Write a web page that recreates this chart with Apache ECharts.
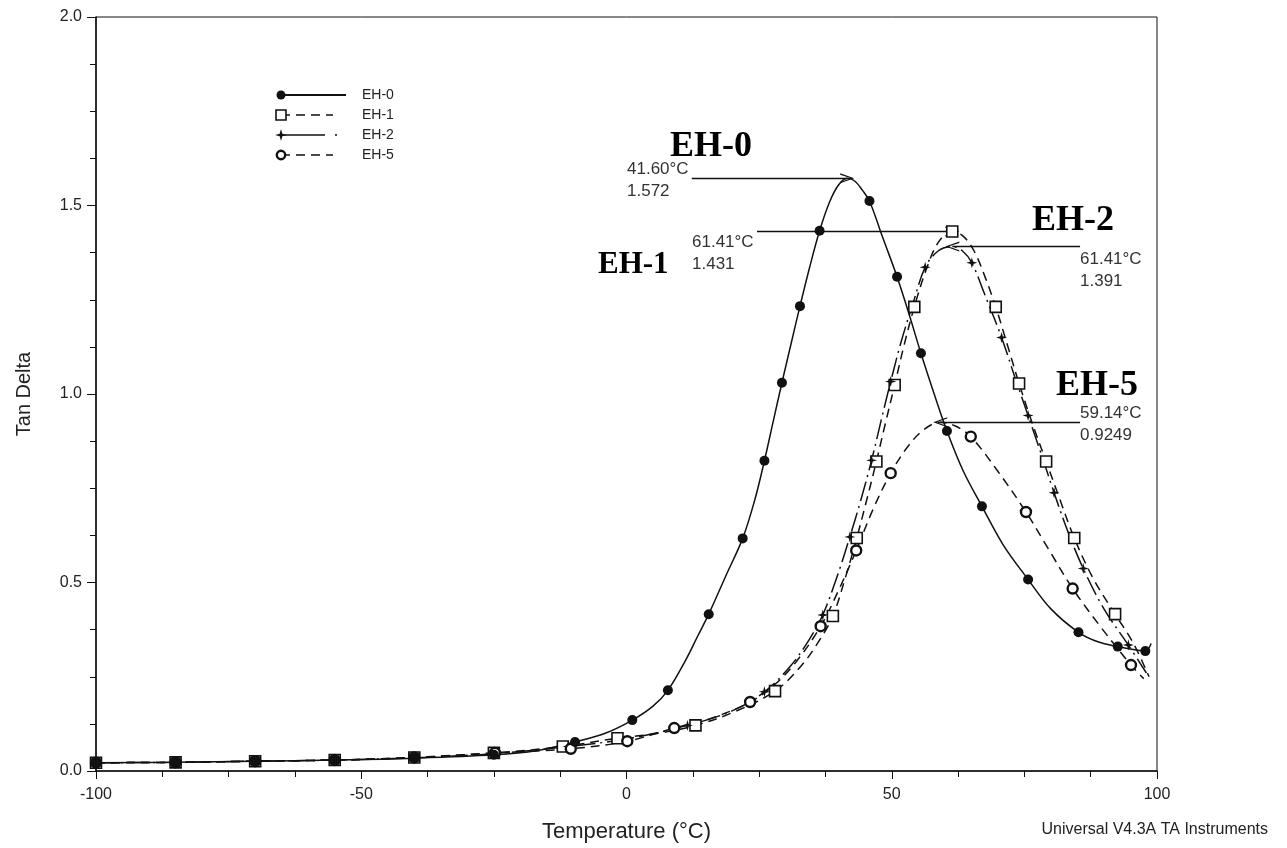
<!DOCTYPE html>
<html>
<head>
<meta charset="utf-8">
<script src="https://cdn.jsdelivr.net/npm/echarts@6/dist/echarts.min.js"></script>
<style>
  html, body { margin: 0; padding: 0; background: #fff; }
  #chart { width: 1287px; height: 848px; }
</style>
</head>
<body>
<div id="chart"></div>
<script>
// Tan Delta vs temperature, DMA sweep for four samples

const seriesNames = ['EH-0', 'EH-1', 'EH-2', 'EH-5'];

// Traced curves [temperature °C, tan delta]
const curveEH0 = [[-100,0.022],[-85,0.023],[-70,0.026],[-55,0.029],[-40,0.034],[-25,0.043],[-17,0.054],[-9.7,0.077],[-4,0.1],[1.1,0.135],[5,0.172],[7.8,0.214],[11,0.29],[13.5,0.36],[15.5,0.416],[18.8,0.52],[21.9,0.617],[24.2,0.72],[26,0.823],[27.7,0.93],[29.3,1.03],[31,1.132],[32.7,1.233],[34.5,1.335],[36.4,1.433],[38.3,1.51],[40,1.555],[41.6,1.572],[43,1.565],[44.5,1.54],[45.8,1.512],[48.3,1.415],[51,1.311],[53.3,1.21],[55.5,1.108],[58,1.0],[60.4,0.902],[63.5,0.795],[67,0.702],[71,0.6],[75.7,0.508],[80,0.43],[85.2,0.368],[89,0.342],[92.6,0.33],[95.5,0.322],[97.8,0.318],[98.9,0.338]];
const curveEH1 = [[-100,0.022],[-85,0.023],[-70,0.026],[-55,0.029],[-40,0.036],[-25,0.048],[-12,0.065],[-1.7,0.087],[6,0.1],[13,0.121],[20,0.155],[28,0.212],[33,0.28],[36.3,0.345],[38.9,0.411],[41.3,0.515],[43.4,0.618],[45.3,0.72],[47.1,0.821],[48.8,0.922],[50.55,1.024],[52.3,1.128],[54.25,1.231],[56.5,1.33],[58.8,1.403],[61.41,1.431],[63.5,1.418],[65.5,1.38],[67.6,1.31],[69.6,1.231],[71.8,1.13],[74,1.028],[76.5,0.922],[79.1,0.821],[81.7,0.72],[84.4,0.618],[88,0.51],[92.1,0.416],[95.5,0.34],[98.5,0.25]];
const curveEH2 = [[-100,0.022],[-85,0.023],[-70,0.026],[-55,0.029],[-40,0.035],[-25,0.046],[-11,0.065],[0,0.085],[11.5,0.121],[20,0.16],[26,0.21],[31,0.28],[34.5,0.35],[37,0.414],[39.8,0.52],[42.1,0.621],[44.2,0.72],[46.2,0.824],[48,0.93],[49.8,1.033],[51.8,1.14],[54,1.24],[56.3,1.336],[58.8,1.38],[61.41,1.391],[63.3,1.38],[65.1,1.348],[67.5,1.265],[70.7,1.15],[73.2,1.045],[75.7,0.943],[78.2,0.84],[80.6,0.738],[83.2,0.635],[86.1,0.537],[90,0.43],[94.6,0.334],[98,0.26]];
const curveEH5 = [[-100,0.022],[-85,0.023],[-70,0.026],[-55,0.029],[-40,0.036],[-24.8,0.048],[-10.5,0.059],[0.15,0.079],[9,0.114],[16,0.14],[23.3,0.183],[28,0.23],[32,0.29],[36.6,0.384],[40,0.48],[43.3,0.585],[46.5,0.695],[49.8,0.79],[53,0.86],[56,0.905],[59.14,0.9249],[62,0.915],[64.9,0.887],[70,0.795],[75.3,0.687],[79.7,0.585],[84.1,0.484],[89.5,0.38],[95.1,0.281],[97.5,0.245]];

// Plotted marker points on each curve
const markersEH0 = [[-100,0.022],[-85,0.023],[-70,0.026],[-55,0.029],[-40,0.034],[-25,0.043],[-9.7,0.077],[1.1,0.135],[7.8,0.214],[15.5,0.416],[21.9,0.617],[26,0.823],[29.3,1.03],[32.7,1.233],[36.4,1.433],[45.8,1.512],[51,1.311],[55.5,1.108],[60.4,0.902],[67,0.702],[75.7,0.508],[85.2,0.368],[92.6,0.33],[97.8,0.318]];
const markersEH1 = [[-100,0.022],[-85,0.023],[-70,0.026],[-55,0.029],[-40,0.036],[-25,0.048],[-12,0.065],[-1.7,0.087],[13,0.121],[28,0.212],[38.9,0.411],[43.4,0.618],[47.1,0.821],[50.55,1.024],[54.25,1.231],[61.41,1.431],[69.6,1.231],[74,1.028],[79.1,0.821],[84.4,0.618],[92.1,0.416]];
const markersEH2 = [[-100,0.022],[-85,0.023],[-70,0.026],[-55,0.029],[-40,0.035],[-25,0.046],[-11,0.065],[11.5,0.121],[26,0.21],[37,0.414],[42.1,0.621],[46.2,0.824],[49.8,1.033],[56.3,1.336],[65.1,1.348],[70.7,1.15],[75.7,0.943],[80.6,0.738],[86.1,0.537],[94.6,0.334]];
const markersEH5 = [[-100,0.022],[-85,0.023],[-70,0.026],[-55,0.029],[-40,0.036],[-24.8,0.048],[-10.5,0.059],[0.15,0.079],[9,0.114],[23.3,0.183],[36.6,0.384],[43.3,0.585],[49.8,0.79],[64.9,0.887],[75.3,0.687],[84.1,0.484],[95.1,0.281]];

// Peak annotations: [peak temperature, peak tan delta, arrow tail temperature]
const peakEH0 = [41.60, 1.572, 12.3];
const peakEH1 = [61.41, 1.431, 24.6];
const peakEH2 = [61.41, 1.391, 85.5];
const peakEH5 = [59.14, 0.9249, 85.5];

const xTicks = [-100, -50, 0, 50, 100];
const yTicks = [0, 0.5, 1.0, 1.5, 2.0];

const INK = '#111';
const STAR = 'path://M5,0 L6.1,3.9 L10,5 L6.1,6.1 L5,10 L3.9,6.1 L0,5 L3.9,3.9 Z';
const OPEN_ARROW = 'path://M5,0 L10,12 L8.7,12 L5,2.8 L1.3,12 L0,12 Z';

function fmtPeak(p) {
  const t = p[0].toFixed(2) + '°C';
  const v = p[1] < 1 ? p[1].toFixed(4) : p[1].toFixed(3);
  return t + '\n' + v;
}

function lineSeries(name, data, dash, peak) {
  return {
    name: name, type: 'line', data: data, smooth: 0.35,
    showSymbol: false, symbol: 'none', z: 3,
    lineStyle: { color: INK, width: 1.5, type: dash },
    markLine: {
      silent: true, animation: false,
      symbol: ['none', OPEN_ARROW], symbolSize: [10, 14],
      lineStyle: { color: INK, width: 1.3, type: 'solid' },
      label: { show: false },
      data: [[{ coord: [peak[2], peak[1]] }, { coord: [peak[0], peak[1]] }]]
    }
  };
}

function markerSeries(name, data, symbol, size, filled, bw, z) {
  return {
    name: name, type: 'scatter', data: data, symbol: symbol, symbolSize: size, z: z,
    itemStyle: { color: filled ? INK : '#fff', borderColor: INK, borderWidth: filled ? 0 : bw, opacity: 1 }
  };
}

const chart = echarts.init(document.getElementById('chart'), null, { renderer: 'canvas' });

const axisText = { color: '#222', fontFamily: 'Liberation Sans, Arial, sans-serif' };

const legendRows = [
  { name: seriesNames[0], y: 95 },
  { name: seriesNames[1], y: 115 },
  { name: seriesNames[2], y: 135 },
  { name: seriesNames[3], y: 155 }
];

function starPoints(cx, cy, r) {
  const k = r * 0.22;
  return [[cx, cy - r], [cx + k, cy - k], [cx + r, cy], [cx + k, cy + k], [cx, cy + r], [cx - k, cy + k], [cx - r, cy], [cx - k, cy - k]];
}

const graphics = [];
// legend block
const lx0 = 281, lx1 = 346, ltx = 362;
graphics.push(
  { type: 'line', shape: { x1: lx0, y1: legendRows[0].y, x2: lx1, y2: legendRows[0].y }, style: { stroke: INK, lineWidth: 1.8 } },
  { type: 'circle', shape: { cx: lx0, cy: legendRows[0].y, r: 4.5 }, style: { fill: INK } },
  { type: 'line', shape: { x1: lx0, y1: legendRows[1].y, x2: 333, y2: legendRows[1].y }, style: { stroke: INK, lineWidth: 1.3, lineDash: [9, 6] } },
  { type: 'rect', shape: { x: lx0 - 5, y: legendRows[1].y - 5, width: 10, height: 10 }, style: { fill: '#fff', stroke: INK, lineWidth: 1.6 } },
  { type: 'line', shape: { x1: lx0, y1: legendRows[2].y, x2: 325, y2: legendRows[2].y }, style: { stroke: INK, lineWidth: 1.3 } },
  { type: 'circle', shape: { cx: 336, cy: legendRows[2].y, r: 1 }, style: { fill: INK } },
  { type: 'polygon', shape: { points: starPoints(lx0, legendRows[2].y, 6) }, style: { fill: INK } },
  { type: 'line', shape: { x1: lx0, y1: legendRows[3].y, x2: 333, y2: legendRows[3].y }, style: { stroke: INK, lineWidth: 1.3, lineDash: [9, 6] } },
  { type: 'circle', shape: { cx: lx0, cy: legendRows[3].y, r: 4.2 }, style: { fill: '#fff', stroke: INK, lineWidth: 2.4 } }
);
legendRows.forEach(r => graphics.push({
  type: 'text', x: ltx, y: r.y,
  style: { text: r.name, font: '14px "Liberation Sans", Arial, sans-serif', fill: '#222', verticalAlign: 'middle' }
}));

// peak value readouts
const peakLabels = [
  { p: peakEH0, x: 627, y: 158 },
  { p: peakEH1, x: 692, y: 231 },
  { p: peakEH2, x: 1080, y: 248 },
  { p: peakEH5, x: 1080, y: 402 }
];
peakLabels.forEach(l => graphics.push({
  type: 'text', x: l.x, y: l.y,
  style: { text: fmtPeak(l.p), font: '17px "Liberation Sans", Arial, sans-serif', fill: '#333', lineHeight: 22, verticalAlign: 'top' }
}));

// sample tags
const tags = [
  { t: seriesNames[0], x: 670, y: 147, s: 36 },
  { t: seriesNames[1], x: 598, y: 265, s: 31 },
  { t: seriesNames[2], x: 1032, y: 221, s: 36 },
  { t: seriesNames[3], x: 1056, y: 386, s: 36 }
];
tags.forEach(g => graphics.push({
  type: 'text', x: g.x, y: g.y,
  style: { text: g.t, font: 'bold ' + g.s + 'px "Liberation Serif", "Times New Roman", serif', fill: '#000', verticalAlign: 'middle' }
}));

graphics.push({
  type: 'text', x: 1268, y: 830,
  style: { text: 'Universal V4.3A TA Instruments', font: '16px "Liberation Sans", Arial, sans-serif', fill: '#222', align: 'right', verticalAlign: 'middle' }
});

chart.setOption({
  animation: false,
  backgroundColor: '#fff',
  grid: { left: 96, right: 130, top: 17, bottom: 75, show: true, borderColor: INK, borderWidth: 1, backgroundColor: 'transparent' },
  xAxis: {
    type: 'value', min: xTicks[0], max: xTicks[xTicks.length - 1], interval: 50,
    name: 'Temperature (°C)', nameLocation: 'middle', nameGap: 50,
    nameTextStyle: Object.assign({ fontSize: 22 }, axisText),
    axisLine: { show: true, onZero: false, lineStyle: { color: INK, width: 1.5 } },
    axisTick: { show: true, inside: false, length: 8, lineStyle: { color: INK, width: 1 } },
    minorTick: { show: true, splitNumber: 4, length: 6, lineStyle: { color: INK, width: 1 } },
    splitLine: { show: false },
    axisLabel: Object.assign({ fontSize: 16, margin: 16, formatter: v => xTicks.includes(v) ? String(v) : '' }, axisText)
  },
  yAxis: {
    type: 'value', min: yTicks[0], max: yTicks[yTicks.length - 1], interval: 0.5,
    name: 'Tan Delta', nameLocation: 'middle', nameGap: 62, nameRotate: 90,
    nameTextStyle: Object.assign({ fontSize: 20 }, axisText),
    axisLine: { show: true, onZero: false, lineStyle: { color: INK, width: 1.5 } },
    axisTick: { show: true, inside: false, length: 9, lineStyle: { color: INK, width: 1 } },
    minorTick: { show: true, splitNumber: 4, length: 6, lineStyle: { color: INK, width: 1 } },
    splitLine: { show: false },
    axisLabel: Object.assign({ fontSize: 16, margin: 14, formatter: v => v.toFixed(1) }, axisText)
  },
  graphic: graphics,
  series: [
    lineSeries(seriesNames[0], curveEH0, 'solid', peakEH0),
    lineSeries(seriesNames[1], curveEH1, [9, 6], peakEH1),
    lineSeries(seriesNames[2], curveEH2, [20, 5, 2, 5], peakEH2),
    lineSeries(seriesNames[3], curveEH5, [9, 6], peakEH5),
    markerSeries(seriesNames[1], markersEH1, 'rect', 11, false, 1.6, 5),
    markerSeries(seriesNames[2], markersEH2, STAR, 11, true, 0, 6),
    markerSeries(seriesNames[3], markersEH5, 'circle', 10, false, 2.4, 7),
    markerSeries(seriesNames[0], markersEH0, 'circle', 10, true, 0, 8)
  ]
});
</script>
</body>
</html>
